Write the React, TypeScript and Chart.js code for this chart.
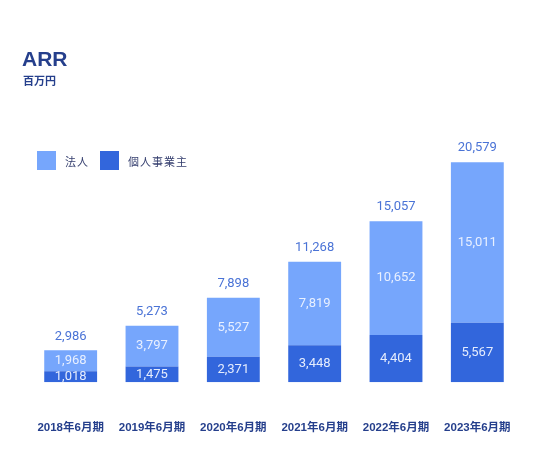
import { useEffect, useRef } from "react";
import { Chart, registerables } from "chart.js";

Chart.register(...registerables);

const periods = ["2018年6月期", "2019年6月期", "2020年6月期", "2021年6月期", "2022年6月期", "2023年6月期"];
const soleProprietor = [1018, 1475, 2371, 3448, 4404, 5567];
const corporate = [1968, 3797, 5527, 7819, 10652, 15011];
const totals = [2986, 5273, 7898, 11268, 15057, 20579];

const LIGHT = "#76a6fc";
const DARK = "#3266dc";
const NAVY = "#253f8c";
const FONT = "Roboto, 'Noto Sans CJK JP', sans-serif";
const AXIS_FONT = "'Liberation Sans', 'Noto Sans CJK JP', sans-serif";

const fmt = (v: number) => v.toLocaleString("en-US");

const valueLabels = {
  id: "valueLabels",
  afterDatasetsDraw(chart: Chart) {
    const ctx = chart.ctx;
    ctx.save();
    ctx.textAlign = "center";
    ctx.textBaseline = "middle";
    ctx.font = `13px ${FONT}`;
    chart.data.datasets.forEach((ds, di) => {
      const meta = chart.getDatasetMeta(di);
      meta.data.forEach((bar: any, i) => {
        const v = ds.data[i] as number;
        ctx.fillStyle = "rgba(238,243,255,0.95)";
        ctx.fillText(fmt(v), bar.x, (bar.y + bar.base) / 2);
      });
    });
    const top = chart.getDatasetMeta(chart.data.datasets.length - 1);
    top.data.forEach((bar: any, i) => {
      ctx.fillStyle = "#4a73d6";
      ctx.fillText(fmt(totals[i]), bar.x, bar.y - 14);
    });
    ctx.restore();
  },
};

export default function App() {
  const canvasRef = useRef<HTMLCanvasElement | null>(null);

  useEffect(() => {
    if (!canvasRef.current) {
      return;
    }
    const chart = new Chart(canvasRef.current, {
      type: "bar",
      data: {
        labels: periods,
        datasets: [
          {
            label: "個人事業主",
            data: soleProprietor,
            backgroundColor: DARK,
            barPercentage: 0.65,
            categoryPercentage: 1.0,
          },
          {
            label: "法人",
            data: corporate,
            backgroundColor: LIGHT,
            barPercentage: 0.65,
            categoryPercentage: 1.0,
          },
        ],
      },
      options: {
        animation: false,
        responsive: false,
        maintainAspectRatio: false,
        layout: { padding: { top: 147, left: 30, right: 35, bottom: 26 } },
        plugins: {
          legend: { display: false },
          tooltip: { enabled: false },
        },
        scales: {
          x: {
            stacked: true,
            grid: { display: false, drawTicks: true, tickLength: 39 },
            border: { display: false },
            ticks: {
              color: NAVY,
              padding: 0,
              font: { family: AXIS_FONT, size: 11.5, weight: "bold" },
            },
          },
          y: {
            stacked: true,
            display: false,
            min: 0,
            max: 22000,
          },
        },
      },
      plugins: [valueLabels],
    });
    return () => {
      chart.destroy();
    };
  }, []);

  const legendItem = (color: string, text: string, left: number) => (
    <div style={{ position: "absolute", left, top: 151, display: "flex", alignItems: "center" }}>
      <div style={{ width: 19, height: 19, background: color }} />
      <span style={{ marginLeft: 9, fontSize: 11, letterSpacing: 1, color: "#343e6e", fontFamily: FONT }}>{text}</span>
    </div>
  );

  return (
    <div style={{ position: "absolute", left: 0, top: 0, width: 553, height: 461, background: "#fff", fontFamily: FONT }}>
      <canvas ref={canvasRef} width={553} height={461} style={{ position: "absolute", left: 0, top: 0 }} />
      <div style={{ position: "absolute", left: 22, top: 47, fontSize: 21, fontWeight: 700, color: NAVY, fontFamily: "'Liberation Sans', Arial, sans-serif" }}>
        ARR
      </div>
      <div style={{ position: "absolute", left: 23, top: 72, fontSize: 11, fontWeight: 700, color: NAVY }}>百万円</div>
      {legendItem(LIGHT, "法人", 37)}
      {legendItem(DARK, "個人事業主", 100)}
    </div>
  );
}
